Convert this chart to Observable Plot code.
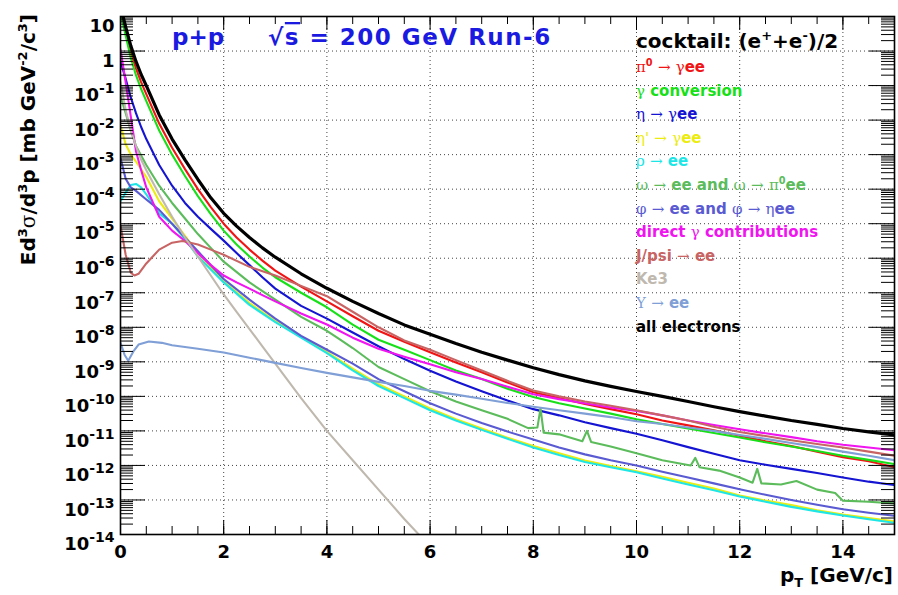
<!DOCTYPE html>
<html><head><meta charset="utf-8">
<script src="https://cdn.jsdelivr.net/npm/d3@7"></script>
<script src="https://cdn.jsdelivr.net/npm/@observablehq/plot@0.6"></script>
<style>
html,body{margin:0;padding:0;background:#fff;}
#wrap{position:relative;width:898px;height:595px;}
</style></head><body><div id="wrap"></div>
<script>
// ---------- data (values stored as log10 exponents of Ed3σ/d3p) ----------
const ptGrid = [0,0.1,0.2,0.3,0.4,0.5,0.75,1,1.25,1.5,1.75,2,2.25,2.5,2.75,3,3.5,4,4.5,5,5.5,6,6.5,7,7.5,8,8.5,9,9.5,10,10.5,11,11.5,12,12.5,13,13.5,14,14.5,15];
const allExp   = [1.3,0.7,0.15,-0.3,-0.68,-1.0,-1.85,-2.55,-3.15,-3.72,-4.25,-4.7,-5.07,-5.4,-5.7,-5.97,-6.45,-6.87,-7.25,-7.6,-7.93,-8.2,-8.47,-8.72,-8.95,-9.17,-9.37,-9.55,-9.71,-9.86,-10.0,-10.15,-10.3,-10.44,-10.57,-10.7,-10.81,-10.93,-11.03,-11.12];
const pi0Exp   = [1.2,0.55,-0.05,-0.5,-0.9,-1.25,-2.1,-2.8,-3.42,-4.0,-4.52,-5.0,-5.4,-5.75,-6.07,-6.36,-6.82,-7.25,-7.68,-8.1,-8.42,-8.72,-9.02,-9.3,-9.6,-9.88,-10.05,-10.22,-10.37,-10.52,-10.7,-10.84,-10.98,-11.14,-11.3,-11.44,-11.6,-11.76,-11.88,-12.05];
const convExp  = [1.1,0.45,-0.2,-0.7,-1.1,-1.45,-2.3,-3.0,-3.62,-4.2,-4.72,-5.2,-5.6,-5.95,-6.27,-6.55,-7.0,-7.42,-7.92,-8.36,-8.65,-8.95,-9.25,-9.5,-9.78,-10.02,-10.2,-10.35,-10.5,-10.66,-10.8,-10.93,-11.06,-11.19,-11.33,-11.45,-11.58,-11.72,-11.84,-11.96];
const etaExp   = [-0.3,-0.8,-1.35,-1.8,-2.2,-2.55,-3.3,-3.9,-4.4,-4.8,-5.15,-5.49,-5.85,-6.2,-6.55,-6.88,-7.38,-7.75,-8.15,-8.55,-8.92,-9.26,-9.57,-9.85,-10.12,-10.37,-10.55,-10.75,-10.92,-11.08,-11.27,-11.47,-11.66,-11.85,-11.98,-12.1,-12.22,-12.35,-12.47,-12.57];
const directExp= [0.05,-0.9,-1.9,-2.9,-3.45,-3.95,-4.8,-5.2,-5.5,-5.85,-6.2,-6.5,-6.7,-6.88,-7.07,-7.25,-7.6,-7.92,-8.3,-8.62,-8.85,-9.07,-9.3,-9.5,-9.72,-9.94,-10.08,-10.2,-10.32,-10.42,-10.55,-10.7,-10.83,-10.95,-11.07,-11.18,-11.3,-11.4,-11.48,-11.56];

const ptHalf = [0,0.1,0.2,0.3,0.5,0.75,1,1.25,1.5,2,2.5,3,3.5,4,4.5,5,5.5,6,6.5,7,7.5,8,8.5,9,9.5,10,10.5,11,11.5,12,12.5,13,13.5,14,14.5,15];
const etapExp  = [-2.15,-2.7,-3.0,-3.2,-3.65,-4.35,-4.85,-5.35,-5.85,-6.67,-7.3,-7.82,-8.27,-8.72,-9.2,-9.65,-10.0,-10.35,-10.66,-10.93,-11.2,-11.44,-11.65,-11.86,-12.02,-12.17,-12.33,-12.5,-12.67,-12.87,-13.02,-13.15,-13.3,-13.42,-13.52,-13.62];
const phiExp   = [-3.1,-3.7,-3.95,-4.05,-4.3,-4.6,-5.0,-5.4,-5.8,-6.6,-7.2,-7.75,-8.25,-8.65,-9.05,-9.5,-9.85,-10.2,-10.5,-10.77,-11.02,-11.25,-11.48,-11.68,-11.85,-12.0,-12.18,-12.35,-12.52,-12.69,-12.85,-13.0,-13.14,-13.27,-13.37,-13.46];

const rhoPt  = [0,0.1,0.2,0.3,0.4,0.5,0.75,1,1.25,1.5,2,2.5,3,3.5,4,4.5,5,5.5,6,6.5,7,7.5,8,8.5,9,9.5,10,10.5,11,11.5,12,12.5,13,13.5,14,14.5,15];
const rhoExp = [-4.35,-4.1,-3.88,-3.85,-3.95,-4.15,-4.7,-5.0,-5.45,-5.95,-6.7,-7.35,-7.85,-8.3,-8.75,-9.25,-9.7,-10.05,-10.4,-10.7,-10.97,-11.23,-11.48,-11.7,-11.9,-12.05,-12.2,-12.38,-12.55,-12.72,-12.9,-13.05,-13.2,-13.33,-13.45,-13.56,-13.66];

const omegaPt  = [0,0.1,0.2,0.3,0.5,0.75,1,1.25,1.5,1.75,2,2.5,3,3.5,4,4.25,4.5,5,5.5,6,6.5,7,7.5,7.9,8.08,8.14,8.2,8.5,8.95,9.04,9.12,9.5,10,10.5,11.05,11.14,11.22,11.6,12,12.25,12.34,12.42,12.8,13.1,13.5,13.85,14,14.5,15];
const omegaExp = [-1.3,-1.8,-2.3,-2.75,-3.3,-3.9,-4.4,-4.85,-5.3,-5.7,-6.1,-6.7,-7.2,-7.7,-8.1,-8.35,-8.6,-9.15,-9.5,-9.85,-10.15,-10.4,-10.65,-10.92,-10.9,-10.35,-11.05,-11.1,-11.3,-11.0,-11.32,-11.45,-11.65,-11.85,-12.0,-11.78,-12.05,-12.15,-12.35,-12.5,-12.1,-12.52,-12.55,-12.45,-12.7,-12.8,-13.02,-13.05,-13.1];

const jpsiPt  = [0,0.1,0.2,0.27,0.35,0.5,0.75,1,1.2,1.5,1.75,2,2.5,3,3.5,4,4.5,5,5.5,6,6.5,7,7.5,8,8.5,9,9.5,10,10.5,11,11.5,12,12.5,13,13.5,14,14.5,15];
const jpsiExp = [-5.05,-5.9,-6.42,-6.5,-6.45,-6.15,-5.75,-5.55,-5.5,-5.6,-5.75,-5.9,-6.25,-6.5,-6.8,-7.1,-7.55,-8.0,-8.38,-8.65,-8.95,-9.25,-9.55,-9.83,-10.0,-10.15,-10.27,-10.4,-10.55,-10.7,-10.88,-11.03,-11.15,-11.27,-11.38,-11.48,-11.6,-11.72];

const ke3Pt  = [0,0.1,0.2,0.3,0.4,0.5,0.75,1,1.25,1.5,1.75,2,2.25,2.5,2.75,3,3.5,4,4.5,5,5.5,6];
const ke3Exp = [-0.9,-1.7,-2.3,-2.75,-3.15,-3.45,-4.15,-4.8,-5.4,-5.95,-6.5,-7.05,-7.55,-8.05,-8.55,-9.05,-10.05,-11.0,-11.85,-12.7,-13.55,-14.35];

const upsPt  = [0,0.08,0.15,0.25,0.35,0.55,0.8,1,1.5,2,2.5,3,3.5,4,4.5,5,5.5,6,6.5,7,7.5,8,8.5,9,9.5,10,10.5,11,11.5,12,12.5,13,13.5,14,14.5,15];
const upsExp = [-8.45,-8.8,-8.97,-8.7,-8.5,-8.41,-8.45,-8.52,-8.62,-8.73,-8.88,-9.03,-9.18,-9.32,-9.45,-9.58,-9.7,-9.84,-9.95,-10.07,-10.19,-10.3,-10.4,-10.5,-10.6,-10.72,-10.8,-10.9,-11.0,-11.12,-11.23,-11.35,-11.47,-11.6,-11.72,-11.85];

const legendLabels = ["π^{0} → γee","γ conversion","η → γee","η' → γee","ρ → ee","ω → ee and ω → π^{0}ee","φ → ee and φ → ηee","direct γ contributions","J/psi → ee","Ke3","Υ → ee","all electrons"];
const legendColors = ["#f01414","#18e018","#1414d2","#ecec10","#1ee6e6","#5cbc5c","#5a5ad2","#f014f0","#c86464","#bfb8ae","#7f9fd6","#000000"];
const legendTitle = "cocktail: (e^{+}+e^{-})/2";

const seriesList = [
  [ptGrid, pi0Exp], [ptGrid, convExp], [ptGrid, etaExp], [ptHalf, etapExp], [rhoPt, rhoExp],
  [omegaPt, omegaExp], [ptHalf, phiExp], [ptGrid, directExp], [jpsiPt, jpsiExp], [ke3Pt, ke3Exp],
  [upsPt, upsExp], [ptGrid, allExp]
];

const xMajor = [0,2,4,6,8,10,12,14];
const xMinor = d3.range(0, 15.01, 0.5);
const yMajor = d3.range(-14, 2).map(k => Math.pow(10, k));
const yMinor = d3.range(-14, 1).flatMap(k => d3.range(2, 10).map(m => m * Math.pow(10, k)));

// ---------- layout ----------
const W = 898, H = 595, mL = 120, mR = 4, mT = 16, mB = 61;
const fw = W - mL - mR, fh = H - mT - mB;

const yFmt = v => { const k = Math.round(Math.log10(v)); return k === 1 ? "10" : k === 0 ? "1" : "10^" + k; };

const lineMarks = seriesList.map(([xs, es], i) =>
  Plot.line(xs.map((x, j) => ({pt: x, val: Math.pow(10, es[j])})), {
    x: "pt", y: "val", stroke: legendColors[i], strokeWidth: i === 11 ? 3.2 : 2.1, clip: true, curve: "linear"
  }));

const grid = "#444";
const plot = Plot.plot({
  width: W, height: H, marginLeft: mL, marginRight: mR, marginTop: mT, marginBottom: mB,
  style: {fontFamily: "'DejaVu Sans', sans-serif", fontWeight: "bold", fontSize: "18px", background: "white", color: "black", overflow: "visible"},
  x: {domain: [0, 15], ticks: xMajor, tickSize: 0, tickPadding: 11, label: null, tickFormat: d => String(d)},
  y: {type: "log", domain: [1e-14, 10], ticks: yMajor, tickSize: 0, tickPadding: 6, label: null, tickFormat: yFmt},
  marks: [
    Plot.ruleX(xMajor.slice(1), {stroke: grid, strokeDasharray: "1,3", strokeWidth: 1}),
    Plot.ruleY(yMajor.slice(0, -1), {stroke: grid, strokeDasharray: "1,3", strokeWidth: 1}),
    ...lineMarks,
    Plot.frame({stroke: "black", strokeWidth: 1.6}),
    Plot.tickY(yMinor, {y: d => d, insetRight: fw - 13, stroke: "black"}),
    Plot.tickY(yMajor, {y: d => d, insetRight: fw - 25, stroke: "black"}),
    Plot.tickY(yMinor, {y: d => d, insetLeft: fw - 13, stroke: "black"}),
    Plot.tickY(yMajor, {y: d => d, insetLeft: fw - 25, stroke: "black"}),
    Plot.tickX(xMinor, {x: d => d, insetTop: fh - 8, stroke: "black"}),
    Plot.tickX(xMajor, {x: d => d, insetTop: fh - 14, stroke: "black"}),
    Plot.tickX(xMinor, {x: d => d, insetBottom: fh - 8, stroke: "black"}),
    Plot.tickX(xMajor, {x: d => d, insetBottom: fh - 14, stroke: "black"})
  ]
});
document.getElementById("wrap").appendChild(plot);

// ---------- text post-processing ----------
const NS = "http://www.w3.org/2000/svg";
const svgEl = plot.tagName.toLowerCase() === "svg" ? plot : plot.querySelector("svg");

d3.select(svgEl).selectAll('g[aria-label^="y-axis"] text').each(function() {
  const t = this.textContent;
  this.setAttribute("dy", "10");
  const m = /^10\^(-?\d+)$/.exec(t);
  if (m) {
    this.textContent = "10";
    const ts = document.createElementNS(NS, "tspan");
    ts.setAttribute("dy", "-8");
    ts.setAttribute("font-size", "14");
    ts.textContent = m[1];
    this.appendChild(ts);
  }
});

const greekChars = "πγηρωφσΥ→'";
function makeText(o) {
  const t = document.createElementNS(NS, "text");
  if (o.transform) t.setAttribute("transform", o.transform);
  else { t.setAttribute("x", o.x); t.setAttribute("y", o.y); }
  t.setAttribute("font-size", o.size);
  t.setAttribute("fill", o.color || "#000");
  t.setAttribute("text-anchor", o.anchor || "start");
  t.setAttribute("font-family", "'DejaVu Sans', sans-serif");
  t.setAttribute("font-weight", "bold");
  t.setAttribute("style", "white-space:pre");
  return t;
}
function richText(parent, str, o) {
  const t = makeText(o);
  const segs = [];
  let i = 0;
  while (i < str.length) {
    if ((str[i] === "^" || str[i] === "_") && str[i + 1] === "{") {
      const j = str.indexOf("}", i);
      segs.push({t: str.slice(i + 2, j), mode: str[i] === "^" ? "sup" : "sub"});
      i = j + 1;
    } else {
      const c = str[i], g = greekChars.includes(c) ? "g" : "n";
      const last = segs[segs.length - 1];
      if (last && last.mode === g) last.t += c; else segs.push({t: c, mode: g});
      i++;
    }
  }
  let shift = 0;
  for (const s of segs) {
    const ts = document.createElementNS(NS, "tspan");
    let target = 0;
    if (s.mode === "sup") { target = -0.42 * o.size; ts.setAttribute("font-size", 0.65 * o.size); }
    if (s.mode === "sub") { target = 0.25 * o.size; ts.setAttribute("font-size", 0.65 * o.size); }
    if (s.mode === "g") { ts.setAttribute("font-family", "'DejaVu Serif', 'Liberation Serif', serif"); ts.setAttribute("font-weight", "normal"); }
    if (target !== shift) { ts.setAttribute("dy", target - shift); shift = target; }
    ts.textContent = s.t;
    t.appendChild(ts);
  }
  parent.appendChild(t);
  return t;
}

// axis titles
richText(svgEl, "Ed^{3}σ/d^{3}p [mb GeV^{-2}/c^{3}]", {transform: "translate(35,14) rotate(-90)", size: 20, anchor: "end"});
richText(svgEl, "p_{T} [GeV/c]", {x: 893, y: 582, size: 20, anchor: "end"});

// title
const blue = "#1a1ae0";
richText(svgEl, "p+p", {x: 172, y: 45, size: 23, color: blue});
const tt = makeText({x: 268, y: 45, size: 23, color: blue, anchor: "start"});
tt.setAttribute("style", "white-space:pre;letter-spacing:1.5px");
const t1 = document.createElementNS(NS, "tspan"); t1.textContent = "√"; tt.appendChild(t1);
const t2 = document.createElementNS(NS, "tspan"); t2.textContent = "s"; t2.setAttribute("text-decoration", "overline"); t2.setAttribute("style", "text-decoration:overline"); tt.appendChild(t2);
const t3 = document.createElementNS(NS, "tspan"); t3.textContent = " = 200 GeV Run-6"; tt.appendChild(t3);
svgEl.appendChild(tt);

// legend
richText(svgEl, legendTitle, {x: 636, y: 48, size: 20, color: "#000"});
legendLabels.forEach((lab, i) => {
  richText(svgEl, lab, {x: 636, y: 72 + i * 23.6, size: 15, color: legendColors[i]});
});
</script></body></html>
